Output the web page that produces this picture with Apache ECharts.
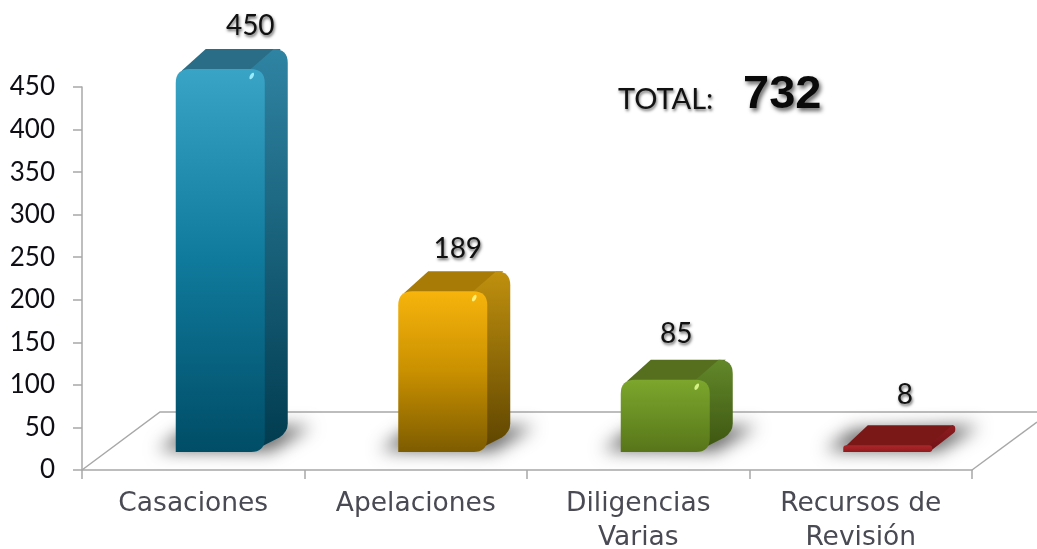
<!DOCTYPE html>
<html><head><meta charset="utf-8">
<style>html,body{margin:0;padding:0;background:#fff}#c{width:1037px;height:549px}</style>
<script src="https://cdn.jsdelivr.net/npm/echarts@6/dist/echarts.min.js"></script>
</head><body><div id="c"></div>
<script>
const categories = ['Casaciones', 'Apelaciones', 'Diligencias\nVarias', 'Recursos de\nRevisión'];
const values = [450, 189, 85, 8];
const yTicks = { min: 0, max: 450, interval: 50 };
const totalLabel = 'TOTAL:';
const totalValue = '732';

const palette = [
  { front: ['#3aa4c6', '#107a9c', '#004d66'], side: ['#2f84a3', '#013b4f'], top: '#2a6d86', glint: '#9fefff' },
  { front: ['#f7b40c', '#c99000', '#7d5c00'], side: ['#c0900e', '#5c4300'], top: '#a87b06', glint: '#fff27a' },
  { front: ['#7ca62c', '#6a8f24', '#587519'], side: ['#62882a', '#3c5410'], top: '#566f1f', glint: '#d9f58a' },
  { front: ['#a8282c', '#a02024', '#8e1a1e'], side: ['#8e1c20', '#6e1214'], top: '#7a1818', glint: '#a8282c' }
];
const labelNudgeX = [19, 4, 0, 6];
const labelNudgeY = [3, 4, 0, -4];
const FONT = 'Lato, sans-serif';
const CAT_FONT = '"DejaVu Sans", sans-serif';

echarts.graphic.registerShape('blockFront', echarts.graphic.extendShape({
  shape: { x0: 0, x1: 0, yt: 0, yb: 0, r: 0 },
  buildPath(ctx, s) {
    ctx.moveTo(s.x0, s.yb);
    ctx.lineTo(s.x0, s.yt + s.r);
    ctx.quadraticCurveTo(s.x0, s.yt, s.x0 + s.r, s.yt);
    ctx.lineTo(s.x1 - s.r, s.yt);
    ctx.quadraticCurveTo(s.x1, s.yt, s.x1, s.yt + s.r);
    ctx.lineTo(s.x1, s.yb - s.r);
    ctx.quadraticCurveTo(s.x1, s.yb, s.x1 - s.r, s.yb);
    ctx.closePath();
  }
}));
echarts.graphic.registerShape('blockSide', echarts.graphic.extendShape({
  shape: { x1: 0, yt: 0, yb: 0, r: 0, dx: 0, dy: 0 },
  buildPath(ctx, s) {
    const bx = s.x1 + s.dx, by = s.yt - s.dy;
    ctx.moveTo(s.x1 - s.r, s.yt);
    ctx.lineTo(bx - s.r, by);
    ctx.quadraticCurveTo(bx, by, bx, by + s.r);
    ctx.lineTo(bx, s.yb - s.dy - s.r * 0.6);
    ctx.quadraticCurveTo(bx, s.yb - s.dy, bx - s.r * 0.6, s.yb - s.dy + s.r * 0.4);
    ctx.lineTo(s.x1 - s.r, s.yb);
    ctx.closePath();
  }
}));

const vgrad = stops => ({
  type: 'linear', x: 0, y: 0, x2: 0, y2: 1,
  colorStops: stops.map((c, i) => ({ offset: i / (stops.length - 1), color: c }))
});

function renderFloor(params, api) {
  const band = api.size([1, 0])[0];
  const o = api.coord([0, 0]);
  const xl = o[0] - band / 2, yf = o[1];
  const xr = xl + band * categories.length;
  const line = { stroke: '#a8a8a8', lineWidth: 1.5, fill: null };
  return {
    type: 'group',
    children: [
      { type: 'polyline', shape: { points: [[xl, yf], [xl + 78, yf - 58], [xr + 65, yf - 58]] }, style: line },
      { type: 'polyline', shape: { points: [[xr, yf], [xr + 65, yf - 48]] }, style: line }
    ]
  };
}

function renderBlock(params, api) {
  const i = params.dataIndex;
  const p = palette[i];
  const base = api.coord([i, 0]);
  const topPt = api.coord([i, api.value(1)]);
  const band = api.size([1, 0])[0];
  const w = band * 0.4, dx = 23, dy = 20;
  const cx = base[0] + 27;
  const x0 = cx - w / 2, x1 = cx + w / 2;
  const yb = base[1] - 18, yt = topPt[1] - 18;
  const h = yb - yt;
  const r = Math.min(14, h * 0.45);
  const OFF = 3000;
  const blur = (pts, alpha, b) => ({
    type: 'polygon', x: -OFF, shape: { points: pts },
    style: { fill: '#000', shadowColor: 'rgba(0,0,0,' + alpha + ')', shadowBlur: b, shadowOffsetX: OFF }
  });
  return {
    type: 'group',
    children: [
      blur([[x0 - 18, yb - 2], [x0 + 10, yb - 22], [x1 + dx + 24, yb - 26], [x1 + 6, yb - 1]], 0.62, 17),
      { type: 'polygon',
        shape: { points: [[x0 + r * 0.4, yt + 2], [x0 + dx + r * 0.5, yt - dy], [x1 + dx - r * 0.5, yt - dy], [x1 - r * 0.4, yt + 1]] },
        style: { fill: p.top } },
      { type: 'blockSide', shape: { x1, yt, yb, r, dx, dy }, style: { fill: vgrad(p.side) } },
      { type: 'blockFront', shape: { x0, x1, yt, yb, r }, style: { fill: vgrad(p.front) } },
      { type: 'ellipse', shape: { cx: x1 - 13, cy: yt + 7, rx: 1.8, ry: 3.6 }, rotation: -0.5,
        originX: x1 - 13, originY: yt + 7, style: { fill: p.glint, opacity: i === 3 ? 0 : 0.95 } },
      { type: 'text', style: {
          text: String(api.value(1)), x: cx + 11 + labelNudgeX[i], y: yt - 46 + labelNudgeY[i],
          align: 'center', verticalAlign: 'middle', font: '28px ' + FONT, fill: '#111',
          textShadowColor: 'rgba(0,0,0,0.6)', textShadowBlur: 3, textShadowOffsetX: 1, textShadowOffsetY: 2 } }
    ]
  };
}

const chart = echarts.init(document.getElementById('c'), null, { renderer: 'canvas' });
chart.setOption({
  animation: false,
  backgroundColor: '#fff',
  grid: { left: 82, right: 65, top: 87, bottom: 79, containLabel: false, outerBoundsMode: 'none' },
  xAxis: {
    type: 'category', data: categories,
    axisLine: { show: true, lineStyle: { color: '#a8a8a8', width: 1.5 } },
    axisTick: { show: true, length: 9, alignWithLabel: false, lineStyle: { color: '#a8a8a8', width: 1.5 } },
    axisLabel: { interval: 0, margin: 17, fontFamily: CAT_FONT, fontSize: 26.5, lineHeight: 34, color: '#4a4a54' }
  },
  yAxis: {
    type: 'value', min: yTicks.min, max: yTicks.max, interval: yTicks.interval,
    splitLine: { show: false },
    axisLine: { show: true, lineStyle: { color: '#a8a8a8', width: 1.5 } },
    axisTick: { show: true, length: 9, lineStyle: { color: '#a8a8a8', width: 1.5 } },
    axisLabel: { margin: 27, fontFamily: FONT, fontSize: 26, color: '#0e0e14' }
  },
  series: [
    { type: 'custom', name: 'floor', z: 1, silent: true, clip: false, renderItem: renderFloor, data: [[0, 0]],
      encode: { x: 0, y: 1 } },
    { type: 'custom', name: 'Total', z: 2, clip: false, renderItem: renderBlock,
      data: values.map((v, i) => [i, v]), encode: { x: 0, y: 1 } }
  ],
  graphic: [
    { type: 'text', left: 618, top: 85, style: { text: totalLabel, font: '29px ' + FONT, fill: '#111',
        textShadowColor: 'rgba(0,0,0,0.55)', textShadowBlur: 3, textShadowOffsetX: 1, textShadowOffsetY: 2 } },
    { type: 'text', left: 743, top: 72, style: { text: totalValue, font: 'bold 47px "Liberation Sans", Arial, sans-serif', fill: '#0a0a0a',
        textShadowColor: 'rgba(0,0,0,0.6)', textShadowBlur: 4, textShadowOffsetX: 2, textShadowOffsetY: 3 } }
  ]
});
</script></body></html>
